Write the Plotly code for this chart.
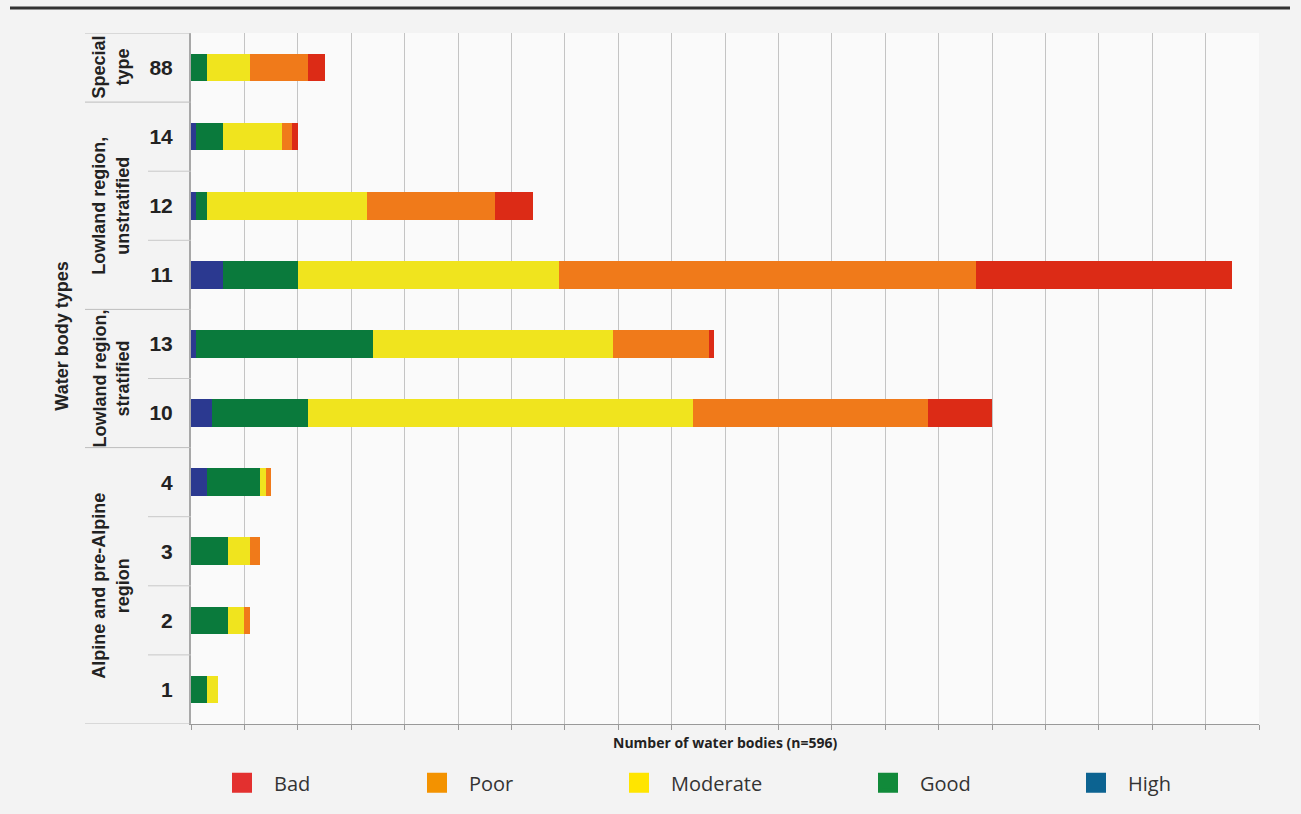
import plotly.graph_objects as go

# ---- data (bottom to top) ----
types = ["1", "2", "3", "4", "10", "13", "11", "12", "14", "88"]
high = [0, 0, 0, 3, 4, 1, 6, 1, 1, 0]
good = [3, 7, 7, 10, 18, 33, 14, 2, 5, 3]
moderate = [2, 3, 4, 1, 72, 45, 49, 30, 11, 8]
poor = [0, 1, 2, 1, 44, 18, 78, 24, 2, 11]
bad = [0, 0, 0, 0, 12, 1, 48, 7, 1, 3]

groups = ["Alpine and pre-Alpine<br>region", "Lowland region,<br>stratified",
          "Lowland region,<br>unstratified", "Special<br>type"]
group_members = [["1", "2", "3", "4"], ["10", "13"], ["11", "12", "14"], ["88"]]

series_names = ["High", "Good", "Moderate", "Poor", "Bad"]
series_vals = [high, good, moderate, poor, bad]
bar_colors = ["#2b3990", "#0a7a3c", "#f0e41e", "#f07a1a", "#dc2b16"]
legend_order = ["Bad", "Poor", "Moderate", "Good", "High"]
legend_colors = {"Bad": "#e3302f", "Poor": "#f39200", "Moderate": "#ffe500",
                 "Good": "#118a3a", "High": "#0c6391"}

W, H = 1301, 814
ML, MR, MT, MB = 191, 42, 33, 87
PW, PH = W - ML - MR, H - MT - MB


def px_x(px):
    return (px - ML) / PW


def px_y(py):
    return 1 - (py - MT) / PH


fig = go.Figure()
for name, vals, col in zip(series_names, series_vals, bar_colors):
    fig.add_trace(go.Bar(y=types, x=vals, name=name, orientation="h",
                         marker=dict(color=col, line=dict(width=0)),
                         showlegend=False))

# legend-only entries, each in its own legend to mimic uneven spacing
legend_center_px = {"Bad": 242, "Poor": 437, "Moderate": 639, "Good": 888, "High": 1096}
for i, name in enumerate(legend_order):
    lid = "legend" if i == 0 else f"legend{i+1}"
    fig.add_trace(go.Scatter(x=[None], y=[None], mode="markers", name=name,
                             marker=dict(symbol="square", size=16, color=legend_colors[name],
                                         line=dict(color=legend_colors[name], width=4)),
                             legend=lid, showlegend=True))
    fig.update_layout({lid: dict(x=px_x(legend_center_px[name] - 32), y=px_y(786),
                                 xanchor="left", yanchor="middle", bgcolor="rgba(0,0,0,0)",
                                 font=dict(family="Open Sans", size=20, color="#333"),
                                 itemsizing="trace", itemwidth=54)})

shapes = []
idx = {t: i for i, t in enumerate(types)}
long_bounds = [-0.5, 3.5, 5.5, 8.5, 9.5]
short_bounds = [0.5, 1.5, 2.5, 4.5, 6.5, 7.5]
for b in long_bounds:
    shapes.append(dict(type="line", xref="paper", yref="y", x0=px_x(85), x1=0, y0=b, y1=b,
                       line=dict(color="#bdbdbd", width=1)))
for b in short_bounds:
    shapes.append(dict(type="line", xref="paper", yref="y", x0=px_x(148), x1=0, y0=b, y1=b,
                       line=dict(color="#c8c8c8", width=1)))
shapes.append(dict(type="line", xref="paper", yref="paper", x0=px_x(10), x1=px_x(1290),
                   y0=px_y(8), y1=px_y(8), line=dict(color="#333333", width=3)))

annotations = []
for g, members in zip(groups, group_members):
    yc = sum(idx[m] for m in members) / len(members)
    annotations.append(dict(text="<b>" + g + "</b>", xref="paper", yref="y", x=px_x(111), y=yc,
                            textangle=-90, showarrow=False, xanchor="center", yanchor="middle",
                            font=dict(family="Liberation Sans", size=18, color="#222"),
                            align="center"))
annotations.append(dict(text="<b>Water body types</b>", xref="paper", yref="paper",
                        x=px_x(50), y=px_y(338), textangle=-90, showarrow=False,
                        font=dict(family="Liberation Sans", size=18, color="#222")))
annotations.append(dict(text="<b>Number of water bodies (n=596)</b>", xref="paper", yref="paper",
                        x=0.5, y=px_y(746), showarrow=False, yanchor="middle",
                        font=dict(family="Open Sans", size=14, color="#222")))

fig.update_layout(
    width=W, height=H,
    margin=dict(l=ML, r=MR, t=MT, b=MB),
    barmode="stack", bargap=0.6,
    paper_bgcolor="#f3f3f3", plot_bgcolor="#fafafa",
    shapes=shapes, annotations=annotations,
    xaxis=dict(range=[0, 200], dtick=10, showticklabels=False, showgrid=True,
               gridcolor="#c4c4c4", gridwidth=1, zeroline=False,
               showline=True, linecolor="#999999", linewidth=1,
               ticks="outside", ticklen=5, tickcolor="#999999"),
    yaxis=dict(type="category", categoryorder="array", categoryarray=types,
               range=[-0.5, 9.5], showgrid=False, zeroline=False,
               showline=True, linecolor="#a8a8a8", linewidth=2,
               ticks="outside", ticklen=12, tickcolor="rgba(0,0,0,0)",
               tickfont=dict(family="Liberation Sans", size=21, color="#222"),
               ticktext=["<b>" + t + "</b>" for t in types], tickvals=types),
)

fig.write_html("out.html", config={"displayModeBar": False},
               post_script="document.body.style.margin='0';document.body.style.background='#f3f3f3';")
